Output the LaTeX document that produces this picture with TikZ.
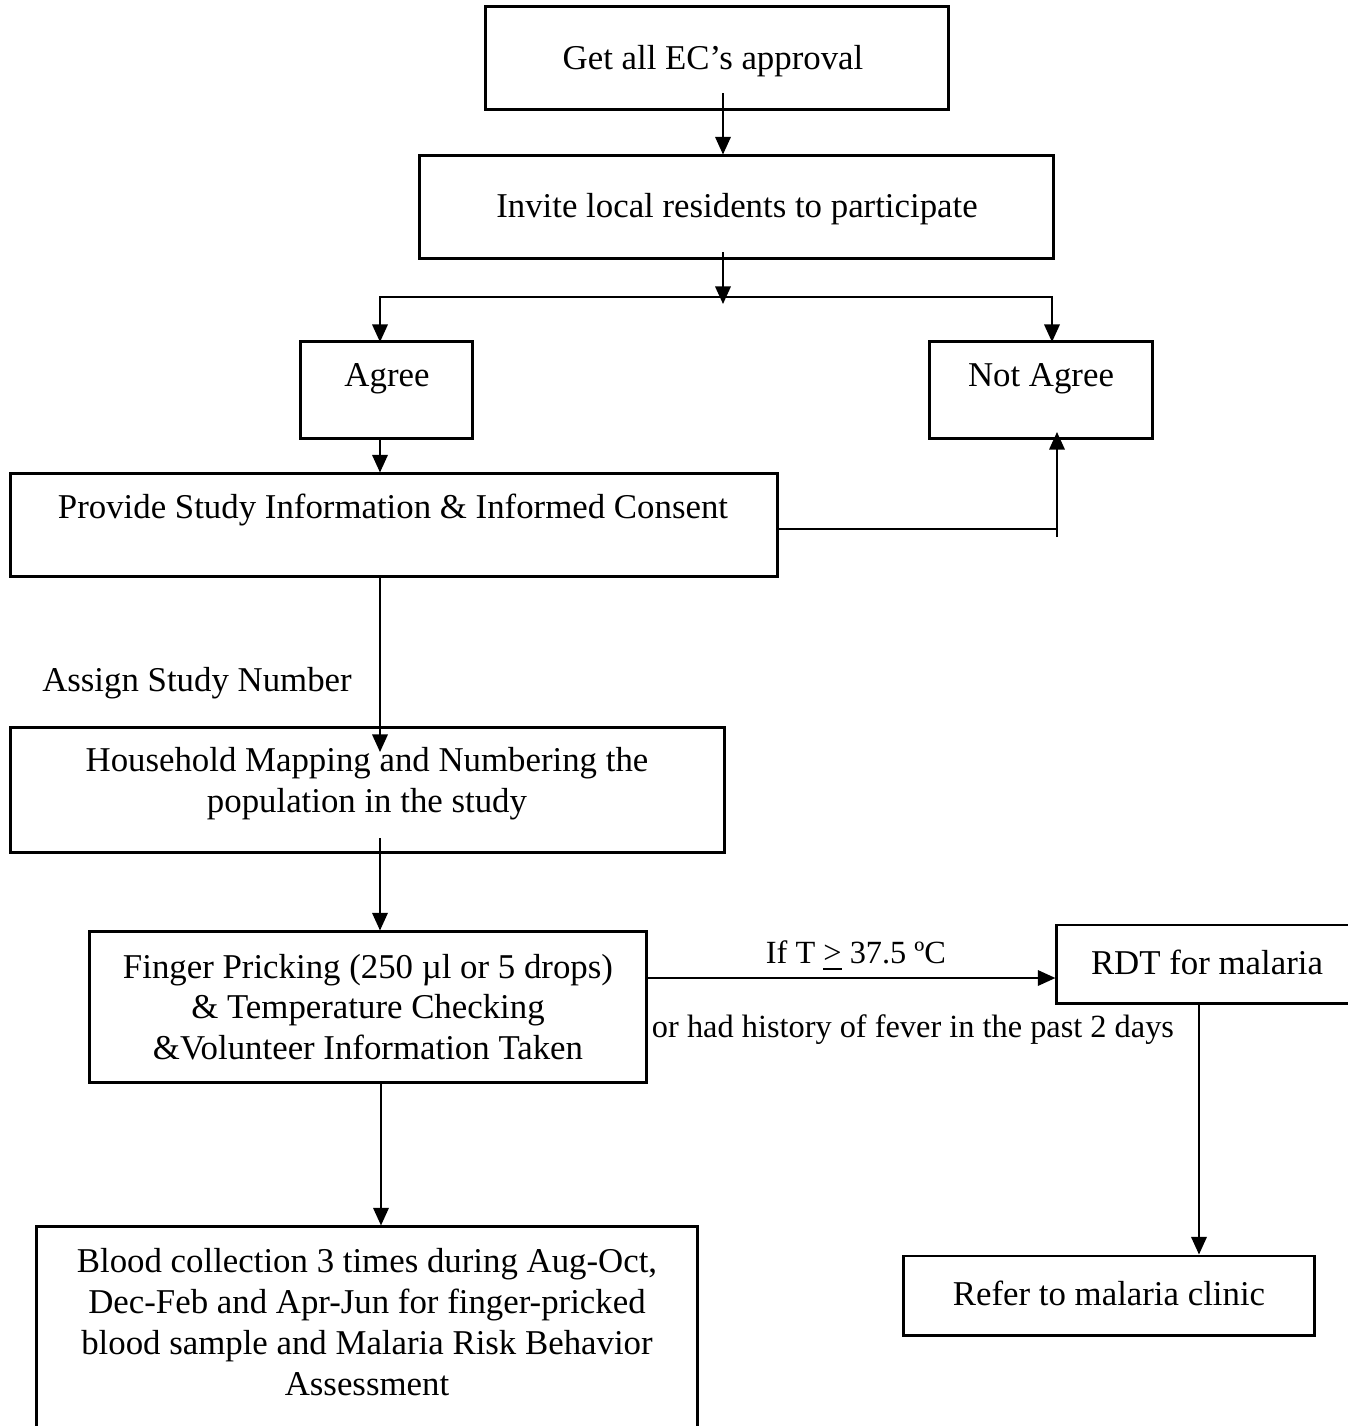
\documentclass[tikz,border=0pt]{standalone}
\usepackage{fontspec}
\setmainfont{Liberation Serif}
\usetikzlibrary{arrows.meta}
\tikzset{
  box/.style={draw, line width=0.85pt, inner sep=0pt},
  txt/.style={font=\fontsize{9.9}{11.6}\selectfont, align=center, inner sep=0pt},
  small/.style={txt, font=\fontsize{9.2}{11}\selectfont},
  wire/.style={line width=0.55pt},
  link/.style={wire, -{Triangle[width=4.4pt,length=5pt]}},
}
\begin{document}
\begin{tikzpicture}[x=0.01cm, y=-0.01cm]
  \useasboundingbox (0,0) rectangle (1348,1426);
  % boxes
  \node[box, minimum width=4.62cm, minimum height=1.02cm] (ec) at (717,58) {};
  \node[box, minimum width=6.33cm, minimum height=1.02cm] (invite) at (736.5,207) {};
  \node[box, minimum width=1.71cm, minimum height=0.96cm] (agree) at (386.5,390) {};
  \node[box, minimum width=2.22cm, minimum height=0.96cm] (notagree) at (1041,390) {};
  \node[box, minimum width=7.66cm, minimum height=1.02cm] (consent) at (394,525) {};
  \node[box, minimum width=7.13cm, minimum height=1.24cm] (household) at (367.5,790) {};
  \node[box, minimum width=5.56cm, minimum height=1.50cm] (finger) at (368,1007) {};
  \node[box, minimum width=3.13cm, minimum height=0.78cm] (rdt) at (1213.5,964) {};
  \node[box, minimum width=4.10cm, minimum height=0.79cm] (refer) at (1109,1295.5) {};
  \node[box, minimum width=6.60cm, minimum height=2.23cm] (blood) at (367,1338.5) {};
  % texts
  \node[txt] (ectxt) at (713,61) {Get all EC’s approval};
  \node[txt] (invitetxt) at (737,209) {Invite local residents to participate};
  \node[txt] (agreetxt) at (387,379) {Agree};
  \node[txt] (notagreetxt) at (1041,379) {Not Agree};
  \node[txt] (consenttxt) at (393,510) {Provide Study Information \& Informed Consent};
  \node[txt] (assign) at (197,683) {Assign Study Number};
  \node[txt] (householdtxt) at (367,784) {Household Mapping and Numbering the\\population in the study};
  \node[txt] (fingertxt) at (368,1007) {Finger Pricking (250 µl or 5 drops)\\\& Temperature Checking\\\&Volunteer Information Taken};
  \node[small] (iftxt) at (856,956) {If T \underline{>} 37.5 ºC};
  \node[small] (fevertxt) at (913,1030) {or had history of fever in the past 2 days};
  \node[txt] (rdttxt) at (1207,962) {RDT for malaria};
  \node[txt] (refertxt) at (1109,1293) {Refer to malaria clinic};
  \node[txt] (bloodtxt) at (367,1322) {Blood collection 3 times during Aug-Oct,\\Dec-Feb and Apr-Jun for finger-pricked\\blood sample and Malaria Risk Behavior\\Assessment};
  % connectors
  \coordinate (ecout) at (723,93);
  \coordinate (inviteout) at (723,252);
  \coordinate (fork) at (723,297);
  \coordinate (forktip) at (723,304);
  \coordinate (agreein) at (380,342);
  \coordinate (notagreein) at (1052,342);
  \coordinate (backturn) at (1057,529);
  \coordinate (backfoot) at (1057,537);
  \coordinate (backtip) at (1057,432);
  \coordinate (householdin) at (380,752);
  \coordinate (householdout) at (380,838);
  \draw[link] (ecout) -- (ecout |- invite.north);
  \draw[link] (inviteout) -- (forktip);
  \draw[link] (fork) -| (agreein);
  \draw[link] (fork) -| (notagreein);
  \draw[link] (agreein |- agree.south) -- (agreein |- consent.north);
  \draw[wire] (consent.east |- backturn) -- (backturn);
  \draw[link] (backfoot) -- (backtip);
  \draw[link] (agreein |- consent.south) -- (householdin);
  \draw[link] (householdout) -- (householdout |- finger.north);
  \draw[link] (finger.east |- 0,978) -- (rdt.west |- 0,978);
  \draw[link] (rdt.south -| 1199,0) -- (refer.north -| 1199,0);
  \draw[link] (finger.south -| 381,0) -- (blood.north -| 381,0);
\end{tikzpicture}
\end{document}
